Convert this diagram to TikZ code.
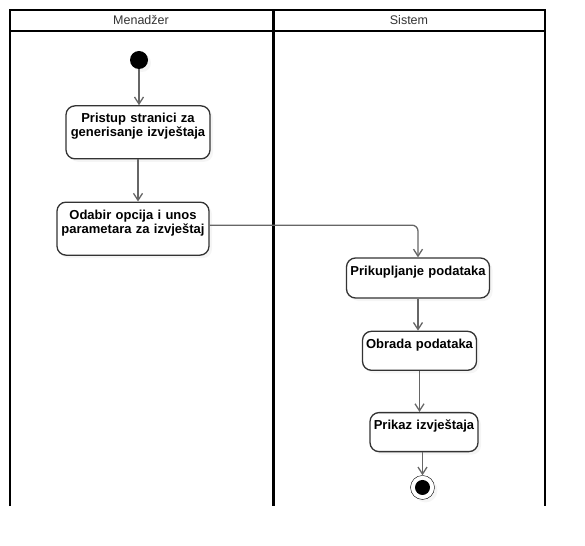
\documentclass[tikz,border=0pt]{standalone}
\usepackage{fontspec}
\setmainfont{Liberation Sans}
\usetikzlibrary{arrows.meta, shadows, positioning}
\definecolor{linegray}{HTML}{666666}
\definecolor{boxgray}{HTML}{333333}
\tikzstyle{lane} = [line width=2pt, black]
\tikzstyle{lanehead} = [text=boxgray, font=\fontsize{12.5}{14}\selectfont]
\tikzstyle{initial} = [circle, fill=black, minimum size=18pt, inner sep=0pt,
    drop shadow={opacity=0.08, shadow xshift=3pt, shadow yshift=-3pt}]
\tikzstyle{final} = [circle, draw=black, fill=white, minimum size=24pt, inner sep=0pt,
    path picture={\fill[black] (path picture bounding box.center) circle (7.5pt);},
    drop shadow={opacity=0.08, shadow xshift=3pt, shadow yshift=-3pt}]
\tikzstyle{activity} = [rectangle, rounded corners=9pt, draw=boxgray, line width=1.3pt,
    fill=white, align=center, inner xsep=2pt, inner ysep=0pt, text height=17pt,
    font=\fontsize{13}{14}\selectfont\bfseries,
    drop shadow={opacity=0.08, shadow xshift=3pt, shadow yshift=-3pt}]
\tikzstyle{arrow} = [draw=linegray, line width=1.3pt, -{Straight Barb[length=7pt,width=9pt]}]

\begin{document}
\begin{tikzpicture}[x=1pt, y=-1pt]
                \useasboundingbox (0,0) rectangle (585,545);
                % swimlanes
                \draw [lane] (9.5,506) -- (9.5,10.5) -- (545,10.5) -- (545,506);
                \draw [lane] (9.5,31) -- (545,31);
                \draw [lane, line width=3pt] (273,10.5) -- (273,506);
                \node (menadzer) [lanehead] at (141,20.5) {Menadžer};
                \node (sistem) [lanehead] at (409,20.5) {Sistem};

                \node (start) [initial] at (139,60) {};
                \node (pristup) [activity, text width=140pt, text depth=36pt, below=36pt of start, xshift=-1pt] {Pristup stranici za\\generisanje izvještaja};
                \node (odabir) [activity, text width=148pt, text depth=36pt, below=42pt of pristup, xshift=-5pt] {Odabir opcija i unos\\parametara za izvještaj};
                \node (prikup) [activity, text width=139pt, text depth=23pt] at (418,278) {Prikupljanje podataka};
                \node (obrada) [activity, text width=110pt, text depth=22pt, below=32pt of prikup, xshift=1.5pt] {Obrada podataka};
                \node (prikaz) [activity, text width=104pt, text depth=22pt, below=41pt of obrada, xshift=4.5pt] {Prikaz izvještaja};
                \node (stop) [final, below=23pt of prikaz, xshift=-1.5pt] {};

                \draw [arrow] (start) -- (start |- pristup.north);
                \draw [arrow] (pristup) -- (pristup |- odabir.north);
                \draw [arrow, rounded corners=6pt] ([yshift=3.5pt]odabir.east) -| (prikup.north);
                \draw [arrow] (prikup) -- (prikup |- obrada.north);
                \draw [arrow] (obrada) -- (obrada |- prikaz.north);
                \draw [arrow] (prikaz.south -| stop) -- (stop);
            \end{tikzpicture}
\end{document}
